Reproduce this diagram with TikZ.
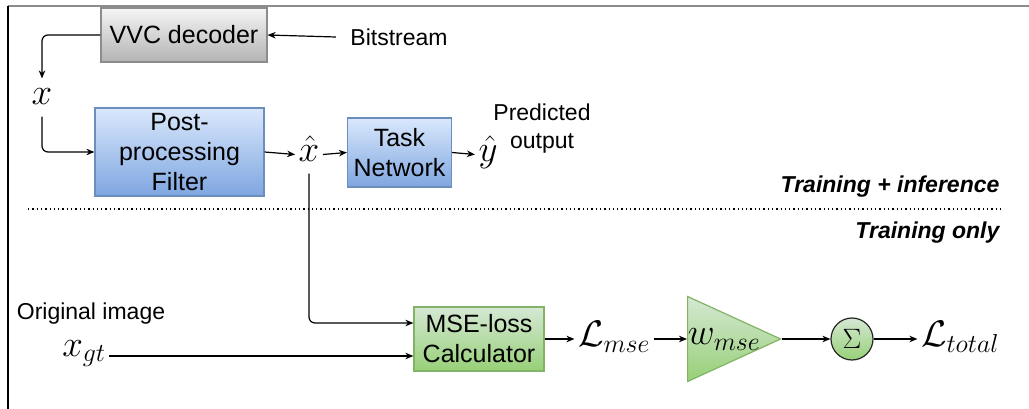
\RequirePackage{fix-cm}
\documentclass[tikz,border=0pt]{standalone}
\usepackage[no-math]{fontspec}
\setmainfont{Liberation Sans}
\usepackage{amsmath}
\usetikzlibrary{arrows.meta, positioning, shapes.geometric}

\definecolor{greyTop}{HTML}{F5F5F5}
\definecolor{greyBot}{HTML}{B3B3B3}
\definecolor{greyLine}{HTML}{8C8C8C}
\definecolor{blueTop}{HTML}{DAE8FC}
\definecolor{blueBot}{HTML}{7EA6E0}
\definecolor{blueLine}{HTML}{6C8EBF}
\definecolor{greenTop}{HTML}{D5E8D4}
\definecolor{greenBot}{HTML}{97D077}
\definecolor{greenLine}{HTML}{82B366}

\begin{document}
\begin{tikzpicture}[
  x=1pt, y=-1pt, line width=1.2pt,
  txt/.style={font=\fontsize{23}{28}\selectfont, align=center, inner sep=0pt},
  tag/.style={font=\fontsize{23}{28}\selectfont\bfseries\itshape, inner sep=0pt, anchor=east},
  mth/.style={font=\fontsize{37}{42}\selectfont, inner xsep=3pt, inner ysep=1pt, text height=25pt, text depth=10pt},
  block/.style={draw, rectangle, font=\fontsize{25}{30}\selectfont, align=center, inner sep=0pt},
  greybox/.style={block, draw=greyLine, top color=greyTop, bottom color=greyBot},
  bluebox/.style={block, draw=blueLine, top color=blueTop, bottom color=blueBot},
  greenbox/.style={block, draw=greenLine, top color=greenTop, bottom color=greenBot},
  >={Stealth[length=8pt, width=6.5pt, inset=2.5pt]}
]
  \useasboundingbox (0,0) rectangle (1029,409);
  \draw[greyLine] (8,6) -- (1029,6);
  \draw[black] (8,6) -- (8,409);

  % inference path
  \node[greybox, minimum width=166, minimum height=54] (dec) at (184,35) {VVC decoder};
  \node[txt] (bits) at (399,37) {Bitstream};
  \node[mth, anchor=base] (xin) at (42,105) {$x$};
  \node[bluebox, minimum width=169, minimum height=88] (pp) at (179.5,152) {Post-\\processing\\Filter};
  \node[mth, anchor=base] (xhat) at (309,162) {$\hat{x}$};
  \node[bluebox, minimum width=104, minimum height=69] (task) at (399.5,152.5) {Task\\Network};
  \node[mth, anchor=base] (yhat) at (488,162) {$\hat{y}$};
  \node[txt] (pred) at (542,129) {Predicted\\output};

  \draw[->] ([xshift=-14pt]bits.west) -- (dec.east);
  \draw[->, rounded corners=6pt] (dec.west) -| (xin.north);
  \draw[->, rounded corners=6pt] (xin.south) |- (pp.west);
  \draw[->] (pp.east) -- (xhat.west);
  \draw[->] (xhat.east) -- (task.west);
  \draw[->] (task.east) -- (yhat.west);

  % split
  \node[tag] (both) at (1000,187) {Training + inference};
  \draw[dash pattern=on 1.3pt off 3pt] (28,209) -- (1000,209);
  \node[tag] (only) at (1000,233) {Training only};

  % training path
  \node[txt] (orig) at (91,314) {Original image};
  \node[mth, anchor=base] (xgt) at (84,356) {$x_{gt}$};
  \node[greenbox, minimum width=130, minimum height=64] (mse) at (479,339) {MSE-loss\\Calculator};
  \node[mth] (lmse) at (614,339) {$\mathcal{L}_{mse}$};
  \node[isosceles triangle, isosceles triangle stretches, shape border rotate=0,
        minimum width=85, minimum height=93, inner sep=0pt, anchor=lower side,
        draw=greenLine, top color=greenTop, bottom color=greenBot] (wgt) at (687,339) {};
  \node[mth] (wlab) at (724,337) {$w_{mse}$};
  \node[circle, draw=black!85, minimum size=42, inner sep=0pt, top color=greenTop, bottom color=greenBot,
        font=\fontsize{28}{32}\selectfont] (sum) at (852,339) {$\Sigma$};
  \node[mth] (ltot) at (960,339) {$\mathcal{L}_{total}$};

  \draw[->, rounded corners=6pt] (xhat.south) |- ([yshift=16pt]mse.west);
  \draw[->] (xgt.base east) -- (xgt.base east -| mse.west);
  \draw[->] (mse.east) -- (lmse.west);
  \draw[->] (lmse.east) -- (wgt.lower side);
  \draw[->] (wgt.apex) -- (sum.west);
  \draw[->] (sum.east) -- (ltot.west);
\end{tikzpicture}
\end{document}
